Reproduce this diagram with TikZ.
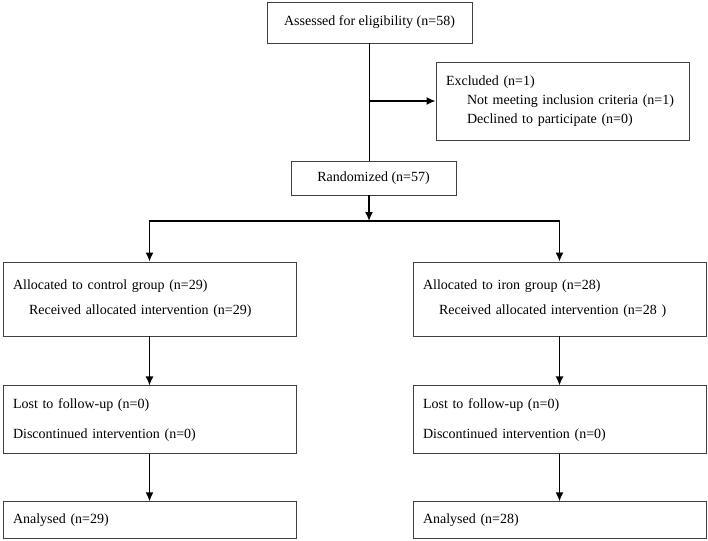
\documentclass[tikz,border=0pt]{standalone}
\usepackage{fontspec}
\setmainfont{Liberation Serif}
\usetikzlibrary{arrows.meta,positioning}
\tikzset{
  box/.style={draw=black!75, line width=0.9pt, rectangle, align=left,
    inner xsep=10pt, inner ysep=0pt, font=\fontsize{14}{19}\selectfont},
  midbox/.style={box, align=center, inner xsep=0pt},
  arm/.style={line width=1.5pt, line cap=rect},
  flow/.style={arm, -{Latex[length=9pt,width=8pt]}},
}
\newcommand{\ind}[1]{\hspace*{#1}}

\begin{document}
\begin{tikzpicture}[x=1pt,y=-1pt]
    \useasboundingbox (0,0) rectangle (708,540);
    % define boxes
    % enrolment
    \node[midbox, minimum width=205pt, minimum height=41pt] (assessed) at (369.5,22.5)
        {Assessed for eligibility (n=58)};
    \node[box, text width=233pt, minimum height=78pt] (excluded) at (562.5,101)
        {Excluded (n=1)\\
         \ind{21pt}Not meeting inclusion criteria (n=1)\\
         \ind{21pt}Declined to participate (n=0)};
    \node[midbox, minimum width=165pt, minimum height=34pt] (randomized) at (373.5,178)
        {Randomized (n=57)};
    \coordinate (split) at (369,221);
    % control arm
    \node[box, text width=273pt, minimum height=74pt] (control) at (149.5,299)
        {Allocated to control group (n=29)\\[6pt]
         \ind{16pt}Received allocated intervention (n=29)};
    \node[box, text width=273pt, minimum height=68pt, below=49pt of control] (control_lost)
        {Lost to follow-up (n=0)\\[11pt]
         Discontinued intervention (n=0)};
    \node[box, text width=273pt, minimum height=37pt, below=47pt of control_lost] (control_analysed)
        {Analysed (n=29)};
    % iron arm
    \node[box, text width=273pt, minimum height=74pt] (iron) at (559.5,299)
        {Allocated to iron group (n=28)\\[6pt]
         \ind{16pt}Received allocated intervention (n=28 )};
    \node[box, text width=273pt, minimum height=68pt, below=49pt of iron] (iron_lost)
        {Lost to follow-up (n=0)\\[11pt]
         Discontinued intervention (n=0)};
    \node[box, text width=273pt, minimum height=37pt, below=47pt of iron_lost] (iron_analysed)
        {Analysed (n=28)};
    % draw connectors
    \draw[arm] (assessed.south) -- (assessed.south |- randomized.north);
    \draw[flow] (assessed.south |- excluded.west) -- (excluded.west);
    \draw[flow] (split |- randomized.south) -- (split);
    \draw[arm] (split -| control.north) -- (split -| iron.north);
    \draw[flow] (split -| control.north) -- (control.north);
    \draw[flow] (split -| iron.north) -- (iron.north);
    \draw[flow] (control.south) -- (control_lost.north);
    \draw[flow] (control_lost.south) -- (control_analysed.north);
    \draw[flow] (iron.south) -- (iron_lost.north);
    \draw[flow] (iron_lost.south) -- (iron_analysed.north);
\end{tikzpicture}
\end{document}
